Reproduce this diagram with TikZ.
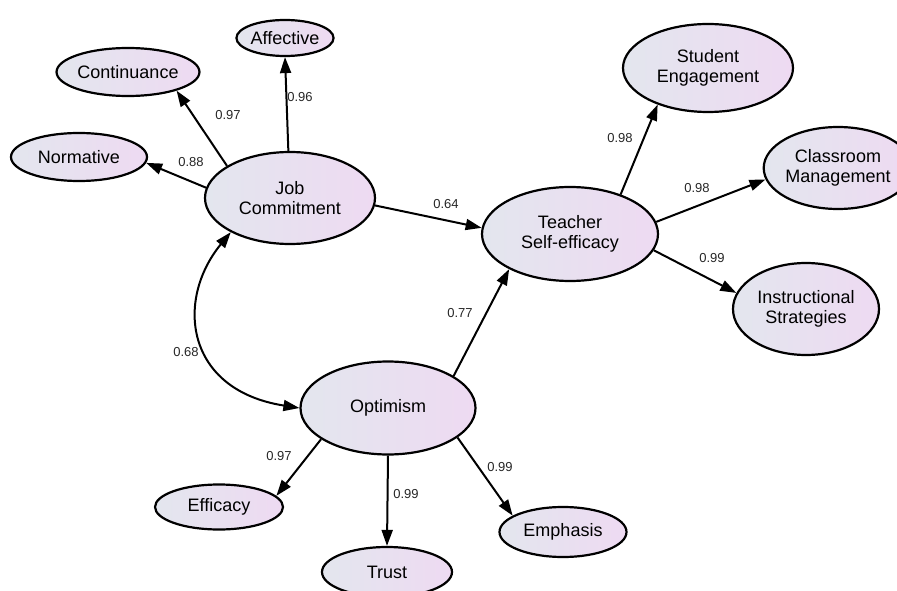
\documentclass[tikz,border=0pt]{standalone}
\usepackage{fontspec}
\setmainfont{Liberation Sans}
\usepackage{tikz}
\usetikzlibrary{shapes.geometric, arrows.meta, positioning}
\definecolor{lvleft}{HTML}{E3E6EE}
\definecolor{lvright}{HTML}{EEDAF2}
\tikzset{latent/.style={ellipse, draw, line width=2.2pt, inner sep=0pt, left color=lvleft, right color=lvright,
		font=\fontsize{18}{19.5}\selectfont, align=center},
	load/.style={line width=2pt, -{Triangle[length=16pt,width=11pt]}},
	coef/.style={font=\fontsize{13}{14}\selectfont, text=black!85}}

\begin{document}
\begin{tikzpicture}[x=1pt, y=1pt]
		\useasboundingbox (0,0) rectangle (897,590);
		% latent variables
		\node[latent, minimum width=170, minimum height=92] (jc) at (290,392) {Job\\Commitment};
		\node[latent, minimum width=176, minimum height=94] (tse) at (570,356) {Teacher\\Self-efficacy};
		\node[latent, minimum width=175, minimum height=93] (opt) at (388,182) {Optimism};
		% indicators
		\node[latent, minimum width=95, minimum height=36] (aff) at (285,552) {Affective};
		\node[latent, minimum width=134, minimum height=48] (con) at (128,518) {Continuance};
		\node[latent, minimum width=136, minimum height=48] (nor) at (79,433) {Normative};
		\node[latent, minimum width=170, minimum height=88] (se) at (708,522) {Student\\Engagement};
		\node[latent, minimum width=140, minimum height=82] (cm) at (838,422) {Classroom\\Management};
		\node[latent, minimum width=146, minimum height=92] (is) at (806,281) {Instructional\\Strategies};
		\node[latent, minimum width=128, minimum height=45] (eff) at (219,83) {Efficacy};
		\node[latent, minimum width=130, minimum height=50] (tru) at (387,18) {Trust};
		\node[latent, minimum width=127, minimum height=50] (emp) at (563,58) {Emphasis};

		\foreach \a/\b in {jc.92/aff.south, jc.153/con.339, jc.173/nor.355, jc.355/tse.176, opt.26/tse.210,
		    tse.38/se.216, tse.8/cm.189, tse.349/is.167, opt.205/eff.11, opt.south/tru.north, opt.337/emp.162}
		  \draw[load] (\a) -- (\b);
		\draw[load, {Triangle[length=16pt,width=11pt]}-{Triangle[length=16pt,width=11pt]}]
		  (jc.210) .. controls (175,290) and (185,200) .. (opt.west);

		% coefficients
		\node[coef] (c1) at (300,493) {0.96};
		\node[coef] (c2) at (228,475) {0.97};
		\node[coef] (c3) at (191,428) {0.88};
		\node[coef] (c4) at (446,386) {0.64};
		\node[coef] (c5) at (460,277) {0.77};
		\node[coef] (c6) at (620,452) {0.98};
		\node[coef] (c7) at (697,402) {0.98};
		\node[coef] (c8) at (712,332) {0.99};
		\node[coef] (c9) at (279,134) {0.97};
		\node[coef] (c10) at (406,96) {0.99};
		\node[coef] (c11) at (500,123) {0.99};
		\node[coef] (c12) at (186,238) {0.68};
	\end{tikzpicture}
\end{document}
